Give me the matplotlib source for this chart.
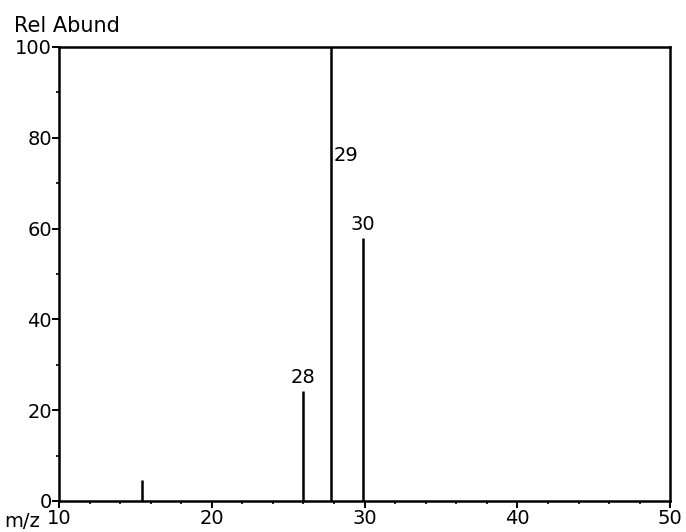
import matplotlib
matplotlib.use("Agg")
import matplotlib.pyplot as plt
from matplotlib.ticker import MultipleLocator

# Peak positions on the m/z axis, relative abundances and the peak labels
peak_mz = [15.4, 26.0, 27.8, 29.9]
peak_abund = [4.6, 24.3, 100.0, 58.0]
peak_labels = ["", "28", "29", "30"]

x_ticks = [10, 20, 30, 40, 50]
y_ticks = [0, 20, 40, 60, 80, 100]

fig = plt.figure(figsize=(6.86, 5.32), dpi=100)
ax = fig.add_axes([0.086, 0.0583, 0.891, 0.8534])

ax.vlines(peak_mz, 0, peak_abund, colors="black", linewidth=1.8)

# Label placement: 28 and 30 above their peaks, 29 beside the base peak
for x, y, lab in zip(peak_mz, peak_abund, peak_labels):
    if not lab:
        continue
    if y >= 99:
        ax.text(x + 0.15, 76, lab, ha="left", va="center", fontsize=14,
                color="black")
    else:
        ax.text(x, y + 0.8, lab, ha="center", va="bottom", fontsize=14,
                color="black")

ax.set_xlim(10, 50)
ax.set_ylim(0, 100)
ax.set_xticks(x_ticks)
ax.set_yticks(y_ticks)
ax.xaxis.set_minor_locator(MultipleLocator(2))
ax.yaxis.set_minor_locator(MultipleLocator(10))

ax.tick_params(axis="both", which="major", direction="out", length=5,
               width=1.4, labelsize=14, pad=1, colors="black")
ax.tick_params(axis="both", which="minor", direction="out", length=2.5,
               width=1.2)

for s in ax.spines.values():
    s.set_linewidth(1.8)
    s.set_color("black")

ax.yaxis.set_tick_params(pad=0)
ax.set_yticklabels([str(v) for v in y_ticks])
ax.set_xticklabels([str(v) for v in x_ticks])

fig.text(0.020, 1 - 32 / 532, "Rel Abund", fontsize=15, ha="left",
         va="baseline")
fig.text(0.006, 1 - 527 / 532, "m/z", fontsize=14, ha="left",
         va="baseline")

fig.savefig("out.png", dpi=100, facecolor="white")
